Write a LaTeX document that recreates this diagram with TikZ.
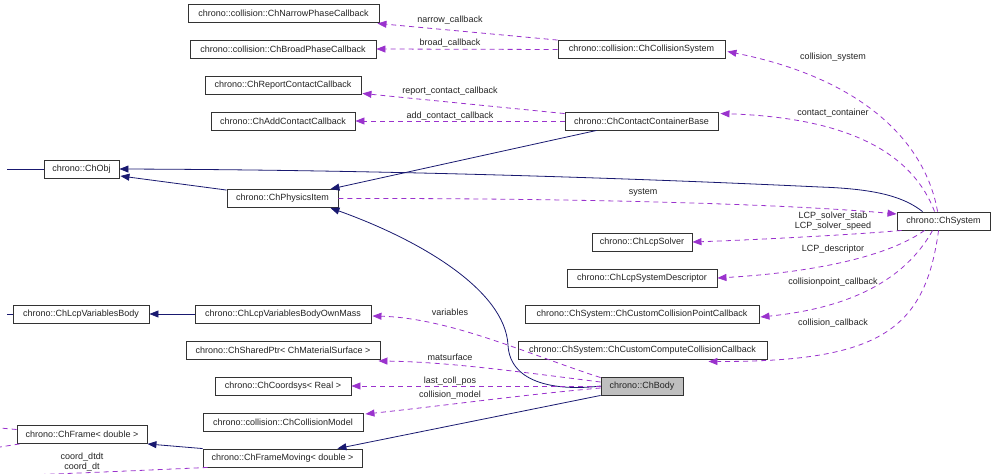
\documentclass[tikz,border=0pt]{standalone}
\usepackage{fontspec}
\setmainfont{Liberation Sans}
\usetikzlibrary{arrows.meta,calc}
\definecolor{navy}{HTML}{191970}
\definecolor{orchid}{HTML}{9A32CD}
\definecolor{txt}{HTML}{222222}
\definecolor{bodyfill}{HTML}{BFBFBF}
\begin{document}
\begin{tikzpicture}[x=1pt,y=-1pt,
  cls/.style={draw=black!80, line width=0.9pt, minimum height=18pt, inner sep=0pt, font=\fontsize{9}{10}\selectfont, text=txt},
  inh/.style={draw=navy, line width=0.8pt, -{Triangle[length=9pt,width=7pt]}},
  inhplain/.style={draw=navy, line width=0.8pt},
  use/.style={draw=orchid, line width=0.8pt, dash pattern=on 5pt off 4pt, -{Triangle[length=9pt,width=7pt]}},
  useplain/.style={draw=orchid, line width=0.8pt, dash pattern=on 5pt off 4pt},
  lbl/.style={font=\fontsize{9}{10}\selectfont, text=txt, inner sep=0pt, align=center}]
\useasboundingbox (0,0) rectangle (991,474);

% nodes
\node[cls, minimum width=191pt] (NarrowPhase) at (283.5,13) {chrono::collision::ChNarrowPhaseCallback};
\node[cls, minimum width=186pt] (BroadPhase) at (283,49) {chrono::collision::ChBroadPhaseCallback};
\node[cls, minimum width=156pt] (ReportContact) at (283,85) {chrono::ChReportContactCallback};
\node[cls, minimum width=144pt] (AddContact) at (283,121) {chrono::ChAddContactCallback};
\node[cls, minimum width=167pt] (CollSys) at (641.5,49.5) {chrono::collision::ChCollisionSystem};
\node[cls, minimum width=153pt] (CCB) at (641.5,121) {chrono::ChContactContainerBase};
\node[cls, minimum width=75pt] (ChObj) at (81.5,169) {chrono::ChObj};
\node[cls, minimum width=111pt] (PhysItem) at (282.5,198.5) {chrono::ChPhysicsItem};
\node[cls, minimum width=93pt] (ChSystem) at (943.5,221) {chrono::ChSystem};
\node[cls, minimum width=100pt] (LcpSolver) at (642,242) {chrono::ChLcpSolver};
\node[cls, minimum width=150pt] (LcpDesc) at (642,278) {chrono::ChLcpSystemDescriptor};
\node[cls, minimum width=234pt] (CCP) at (642,314) {chrono::ChSystem::ChCustomCollisionPointCallback};
\node[cls, minimum width=249pt] (CCC) at (642.5,350.5) {chrono::ChSystem::ChCustomComputeCollisionCallback};
\node[cls, minimum width=82pt, fill=bodyfill] (ChBody) at (642,386) {chrono::ChBody};
\node[cls, minimum width=136pt] (LcpVarBody) at (81,314) {chrono::ChLcpVariablesBody};
\node[cls, minimum width=176pt] (OwnMass) at (283,314) {chrono::ChLcpVariablesBodyOwnMass};
\node[cls, minimum width=194pt] (SharedPtr) at (283,350.5) {chrono::ChSharedPtr< ChMaterialSurface >};
\node[cls, minimum width=136pt] (Coordsys) at (283,386) {chrono::ChCoordsys< Real >};
\node[cls, minimum width=160pt] (CollModel) at (283,422) {chrono::collision::ChCollisionModel};
\node[cls, minimum width=130pt] (ChFrame) at (82,434.5) {chrono::ChFrame< double >};
\node[cls, minimum width=159pt] (FrameMoving) at (282.5,458) {chrono::ChFrameMoving< double >};

% off-picture ends
\coordinate (objL) at (7,169);
\coordinate (lvbL) at (7,314);
\coordinate (frL1) at (0,428);
\coordinate (frL2) at (0,447);
\coordinate (fmL) at (0,476);

% inheritance (navy)
\draw[inhplain] (ChObj.west) -- (objL);
\draw[inhplain] (LcpVarBody.west) -- (lvbL);
\draw[inh] ($(PhysItem.north west)+(0,1)$) -- ($(ChObj.east)+(1,7)$);
\draw[inh] ($(ChSystem.north west)+(26,0)$) .. controls (905,198) and (880,189) .. (820,187)
  .. controls (650,179) and (400,170) .. (ChObj.east);
\draw[inh] ($(CCB.south west)+(32,0)$) -- ($(PhysItem.north east)+(-8,0)$);
\draw[inh] (ChBody.west) .. controls (560,391) and (510,385) .. (508,345)
  .. controls (505,290) and (420,240) .. ($(PhysItem.south east)+(-8,0)$);
\draw[inh] (ChBody.south west) -- ($(FrameMoving.north east)+(-25,0)$);
\draw[inh] (FrameMoving.north west) -- (ChFrame.south east);
\draw[inh] (OwnMass.west) -- (LcpVarBody.east);

% usage (dashed orchid)
\draw[use] (CollSys.north west) -- ($(NarrowPhase.south east)+(-2,1)$);
\node[lbl] (lNarrow) at (450,20) {narrow\_callback};
\draw[use] (CollSys.west) -- (BroadPhase.east);
\node[lbl] (lBroad) at (450,43) {broad\_callback};
\draw[use] ($(CCB.north west)+(0,2)$) -- ($(ReportContact.south east)+(1,-1)$);
\node[lbl] (lReport) at (450,91) {report\_contact\_callback};
\draw[use] (CCB.west) -- (AddContact.east);
\node[lbl] (lAdd) at (450,116) {add\_contact\_callback};

\draw[use] ($(ChSystem.north west)+(41,0)$) .. controls (925,140) and (860,78) .. ($(CollSys.east)+(2,2)$);
\node[lbl] (lCollSys) at (833,57) {collision\_system};
\draw[use] ($(ChSystem.north west)+(38,0)$) .. controls (915,160) and (860,118) .. ($(CCB.north east)+(2,2)$);
\node[lbl] (lCC) at (833,113) {contact\_container};

\draw[use] (PhysItem.east) .. controls (600,198) and (800,205) .. ($(ChSystem.west)+(0,-7)$);
\node[lbl] (lSystem) at (643,193) {system};
\draw[use] ($(ChSystem.south west)+(5,0)$) .. controls (850,235) and (750,240) .. (LcpSolver.east);
\node[lbl] (lSolver) at (833,221.5) {LCP\_solver\_stab\\LCP\_solver\_speed};
\draw[use] ($(ChSystem.south west)+(28,0)$) .. controls (890,255) and (820,272) .. (LcpDesc.east);
\node[lbl] (lDesc) at (833,249) {LCP\_descriptor};
\draw[use] ($(ChSystem.south west)+(36,0)$) .. controls (905,280) and (850,308) .. ($(CCP.east)+(1,3)$);
\node[lbl] (lCCP) at (833,282) {collisionpoint\_callback};
\draw[use] ($(ChSystem.south west)+(42,0)$) .. controls (925,330) and (880,362) .. ($(CCC.south east)+(-59,1.5)$);
\node[lbl] (lCCC) at (833,323) {collision\_callback};

\draw[use] ($(ChBody.north west)+(0,1)$) .. controls (530,355) and (450,318) .. ($(OwnMass.east)+(1,2)$);
\node[lbl] (lVar) at (450,312) {variables};
\draw[use] ($(ChBody.west)+(0,-4)$) .. controls (520,372) and (450,362) .. ($(SharedPtr.south east)+(-2,1)$);
\node[lbl] (lMat) at (450,357) {matsurface};
\draw[use] (ChBody.west) -- (Coordsys.east);
\node[lbl] (lLast) at (450,381) {last\_coll\_pos};
\draw[use] ($(ChBody.west)+(0,2)$) .. controls (520,395) and (450,405) .. ($(CollModel.east)+(2,-8)$);
\node[lbl] (lCM) at (450,395) {collision\_model};

\draw[useplain] ($(ChFrame.west)+(0,-5)$) -- (frL1);
\draw[useplain] ($(ChFrame.south west)+(3,0)$) -- (frL2);
\draw[useplain] ($(FrameMoving.south west)+(5,0)$) .. controls (150,470) and (60,474) .. (fmL);
\node[lbl] (lCoord) at (82,462.5) {coord\_dtdt\\coord\_dt};
\end{tikzpicture}
\end{document}
